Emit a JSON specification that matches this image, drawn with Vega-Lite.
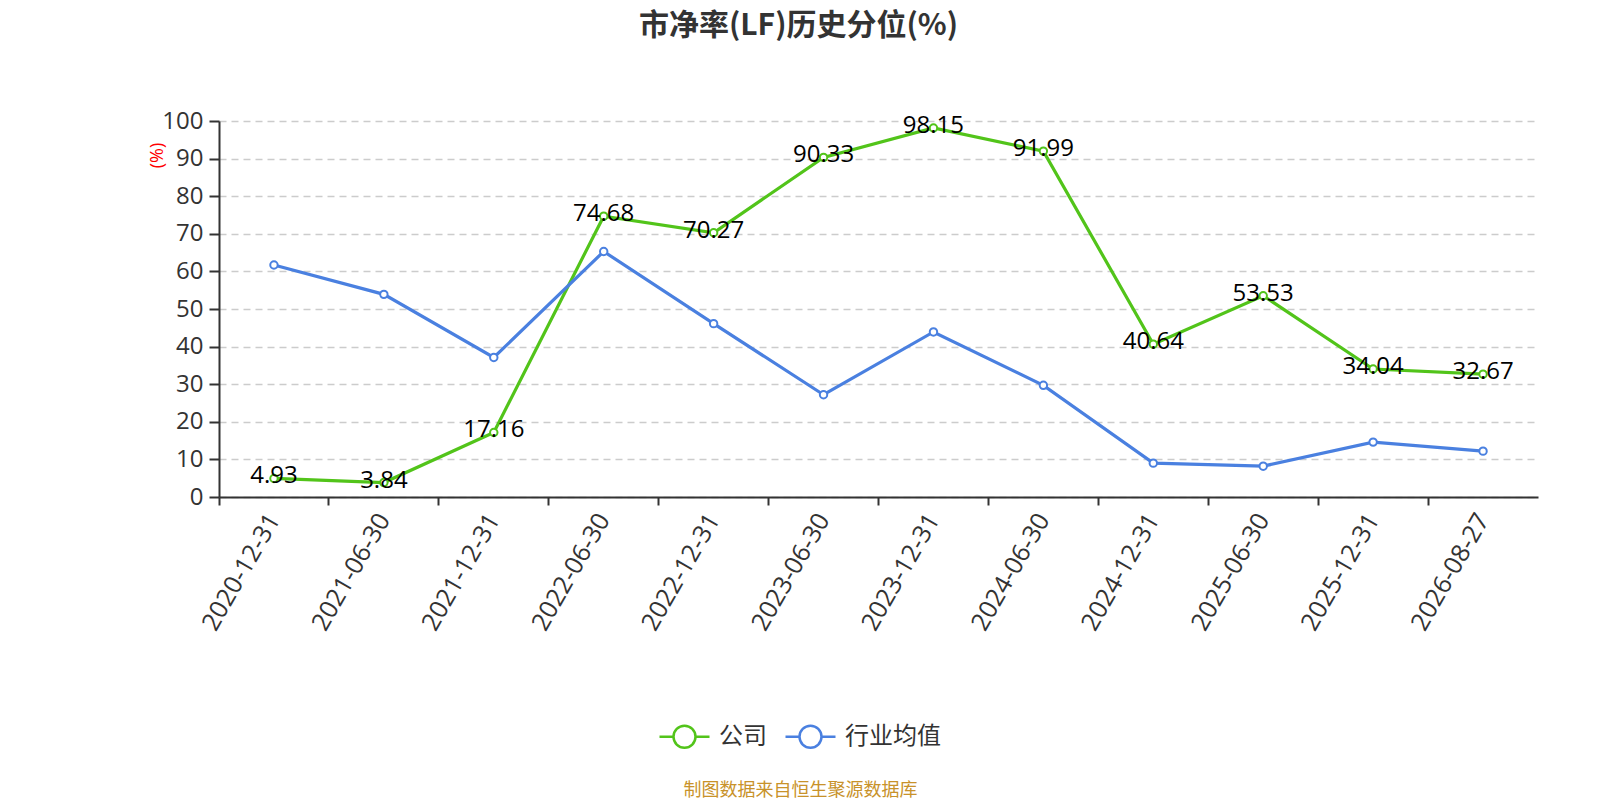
{
  "$schema": "https://vega.github.io/schema/vega-lite/v6.json",
  "autosize": "none",
  "width": 1319,
  "height": 376,
  "padding": {"left": 219, "top": 121, "right": 62, "bottom": 303},
  "background": "white",
  "title": {
    "text": "市净率(LF)历史分位(%)",
    "font": "Noto Sans CJK SC",
    "fontSize": 30,
    "fontWeight": "bold",
    "color": "#333333",
    "anchor": "middle",
    "dx": -80,
    "offset": 68
  },
  "config": {
    "view": {"stroke": null},
    "font": "Open Sans, Noto Sans CJK SC"
  },
  "data": {
    "values": [
      {"date": "2020-12-31", "series": "公司", "value": 4.93},
      {"date": "2021-06-30", "series": "公司", "value": 3.84},
      {"date": "2021-12-31", "series": "公司", "value": 17.16},
      {"date": "2022-06-30", "series": "公司", "value": 74.68},
      {"date": "2022-12-31", "series": "公司", "value": 70.27},
      {"date": "2023-06-30", "series": "公司", "value": 90.33},
      {"date": "2023-12-31", "series": "公司", "value": 98.15},
      {"date": "2024-06-30", "series": "公司", "value": 91.99},
      {"date": "2024-12-31", "series": "公司", "value": 40.64},
      {"date": "2025-06-30", "series": "公司", "value": 53.53},
      {"date": "2025-12-31", "series": "公司", "value": 34.04},
      {"date": "2026-08-27", "series": "公司", "value": 32.67},
      {"date": "2020-12-31", "series": "行业均值", "value": 61.7},
      {"date": "2021-06-30", "series": "行业均值", "value": 53.9},
      {"date": "2021-12-31", "series": "行业均值", "value": 37.1},
      {"date": "2022-06-30", "series": "行业均值", "value": 65.3},
      {"date": "2022-12-31", "series": "行业均值", "value": 46.1},
      {"date": "2023-06-30", "series": "行业均值", "value": 27.2},
      {"date": "2023-12-31", "series": "行业均值", "value": 43.9},
      {"date": "2024-06-30", "series": "行业均值", "value": 29.7},
      {"date": "2024-12-31", "series": "行业均值", "value": 9.0},
      {"date": "2025-06-30", "series": "行业均值", "value": 8.2},
      {"date": "2025-12-31", "series": "行业均值", "value": 14.6},
      {"date": "2026-08-27", "series": "行业均值", "value": 12.2}
    ]
  },
  "encoding": {
    "x": {
      "field": "date",
      "type": "ordinal",
      "bandPosition": 0.5,
      "scale": {"type": "band", "paddingInner": 0, "paddingOuter": 0},
      "axis": {
        "title": "制图数据来自恒生聚源数据库",
        "titleColor": "#c8922a",
        "titleFont": "Noto Sans CJK SC",
        "titleFontSize": 18,
        "titleFontWeight": "normal",
        "titleX": 581,
        "titleY": 293,
        "titleAlign": "center",
        "titleBaseline": "middle",
        "bandPosition": 0,
        "labelAngle": -60,
        "labelAlign": "right",
        "labelBaseline": "middle",
        "labelFontSize": 25,
        "labelColor": "#333333",
        "labelPadding": 10,
        "labelOverlap": false,
        "tickSize": 8,
        "tickWidth": 2,
        "tickColor": "#333333",
        "domainColor": "#333333",
        "domainWidth": 2,
        "grid": false
      }
    },
    "y": {
      "field": "value",
      "type": "quantitative",
      "scale": {"domain": [0, 100], "nice": false},
      "axis": {
        "title": "(%)",
        "titleColor": "red",
        "titleFontSize": 18,
        "titleFontWeight": "normal",
        "titleAngle": -90,
        "titleX": -62,
        "titleY": 34,
        "titleAlign": "center",
        "titleBaseline": "middle",
        "values": [0, 10, 20, 30, 40, 50, 60, 70, 80, 90, 100],
        "labelFontSize": 24,
        "labelColor": "#333333",
        "labelPadding": 6,
        "tickSize": 10,
        "tickWidth": 2,
        "tickColor": "#333333",
        "domainColor": "#333333",
        "domainWidth": 2,
        "grid": true,
        "gridColor": "#cccccc",
        "gridDash": [7, 5],
        "gridWidth": 1.5
      }
    }
  },
  "layer": [
    {
      "mark": {"type": "line", "strokeWidth": 3.2},
      "encoding": {
        "color": {
          "field": "series",
          "type": "nominal",
          "scale": {"domain": ["公司", "行业均值"], "range": ["#52c41a", "#4a80e0"]},
          "legend": {
            "title": null,
            "orient": "none",
            "direction": "horizontal",
            "legendX": 439,
            "legendY": 589,
            "labelFont": "Noto Sans CJK SC",
            "labelFontSize": 24,
            "labelColor": "#333333",
            "labelOffset": 8,
            "columnPadding": 13,
            "symbolType": "M-1,0L-0.44,0M0.44,0L1,0M-0.44,0A0.44,0.44,0,1,0,0.44,0A0.44,0.44,0,1,0,-0.44,0",
            "symbolSize": 2500,
            "symbolStrokeWidth": 2.5,
            "symbolFillColor": "white"
          }
        }
      }
    },
    {
      "mark": {"type": "point", "filled": true, "fill": "white", "size": 55, "strokeWidth": 2, "opacity": 1},
      "encoding": {
        "stroke": {
          "field": "series",
          "type": "nominal",
          "scale": {"domain": ["公司", "行业均值"], "range": ["#52c41a", "#4a80e0"]},
          "legend": null
        }
      }
    },
    {
      "transform": [{"filter": "datum.series === '公司'"}],
      "mark": {"type": "text", "fontSize": 24, "color": "#000000", "baseline": "middle", "dy": -2},
      "encoding": {
        "text": {"field": "value", "type": "quantitative", "format": ".2f"}
      }
    }
  ]
}
